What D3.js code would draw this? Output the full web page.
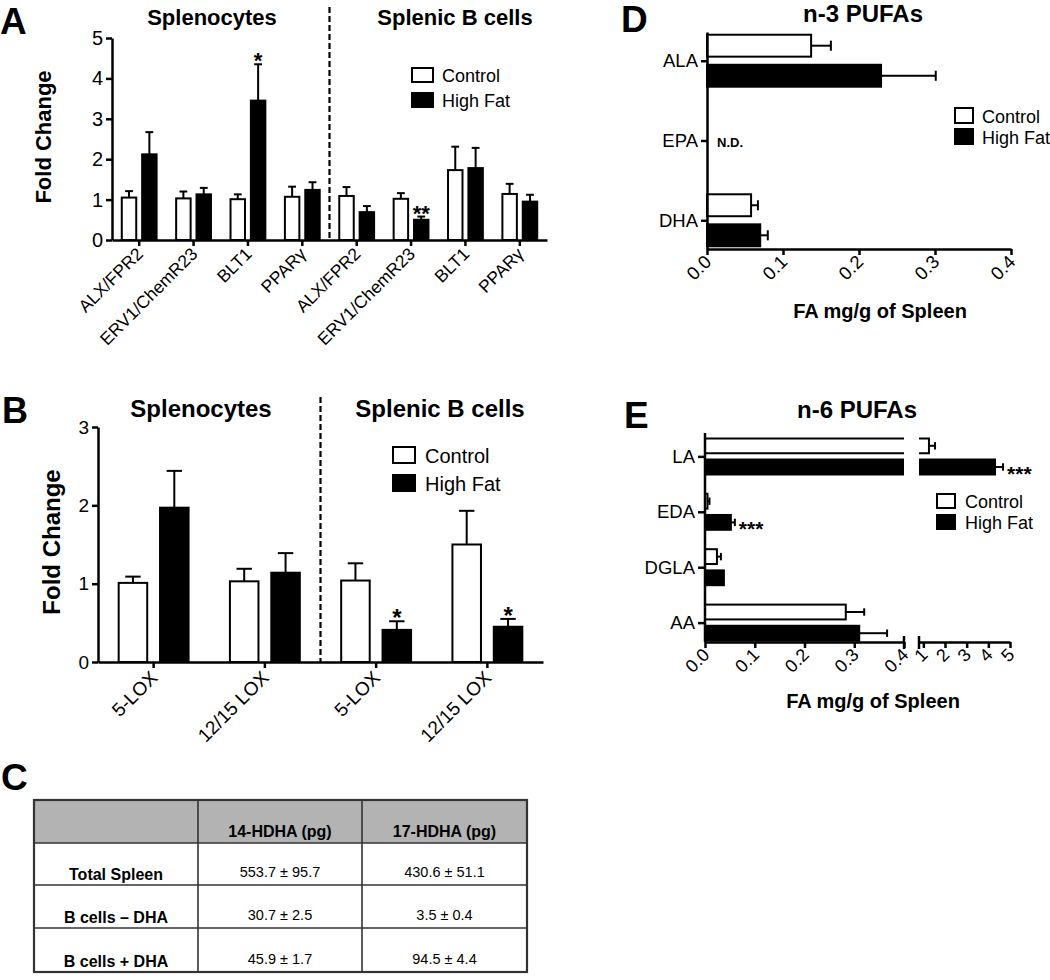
<!DOCTYPE html>
<html><head><meta charset="utf-8">
<script src="https://cdn.jsdelivr.net/npm/d3@7"></script>
<style>body{margin:0;background:#fff} svg, svg text{font-family:"Liberation Sans",Arial,Helvetica,sans-serif}</style>
</head><body>
<svg id="fig" width="1050" height="980"></svg>
<script>
// ---------- DATA ----------
const seriesNames = ["Control", "High Fat"];
const seriesFill = ["#ffffff", "#000000"];

// Panel A
const catsA = ["ALX/FPR2", "ERV1/ChemR23", "BLT1", "PPARγ", "ALX/FPR2", "ERV1/ChemR23", "BLT1", "PPARγ"];
const groupTitlesA = ["Splenocytes", "Splenic B cells"];
const ctrlA = [1.05, 1.03, 1.01, 1.07, 1.09, 1.02, 1.73, 1.14];
const ctrlErrA = [0.16, 0.17, 0.12, 0.25, 0.22, 0.14, 0.58, 0.25];
const hfA = [2.12, 1.13, 3.45, 1.24, 0.69, 0.50, 1.78, 0.95];
const hfErrA = [0.55, 0.16, 0.90, 0.19, 0.15, 0.08, 0.50, 0.17];
const sigA = ["", "", "*", "", "", "**", "", ""];
const ticksA = [0, 1, 2, 3, 4, 5];

// Panel B
const catsB = ["5-LOX", "12/15 LOX", "5-LOX", "12/15 LOX"];
const groupTitlesB = ["Splenocytes", "Splenic B cells"];
const ctrlB = [1.01, 1.03, 1.04, 1.50];
const ctrlErrB = [0.08, 0.16, 0.22, 0.43];
const hfB = [1.97, 1.14, 0.41, 0.45];
const hfErrB = [0.47, 0.25, 0.11, 0.10];
const sigB = ["", "", "*", "*"];
const ticksB = [0, 1, 2, 3];

// Panel C (table)
const tableHeader = ["", "14-HDHA (pg)", "17-HDHA (pg)"];
const tableRows = ["Total Spleen", "B cells – DHA", "B cells + DHA"];
const mean14 = [553.7, 30.7, 45.9];
const sem14 = [95.7, 2.5, 1.7];
const mean17 = [430.6, 3.5, 94.5];
const sem17 = [51.1, 0.4, 4.4];

// Panel D
const catsD = ["ALA", "EPA", "DHA"];
const ctrlD = [0.137, null, 0.058];
const ctrlErrD = [0.026, null, 0.009];
const hfD = [0.229, null, 0.070];
const hfErrD = [0.072, null, 0.010];
const ndD = ["", "N.D.", ""];
const ticksD = [0, 0.1, 0.2, 0.3, 0.4];

// Panel E
const catsE = ["LA", "EDA", "DGLA", "AA"];
const ctrlE = [1.26, 0.005, 0.024, 0.283];
const ctrlErrE = [0.28, 0.004, 0.008, 0.037];
const hfE = [4.31, 0.052, 0.038, 0.310];
const hfErrE = [0.37, 0.008, 0, 0.056];
const sigE = ["***", "***", "", ""];
const ticksE1 = [0, 0.1, 0.2, 0.3, 0.4];
const ticksE2 = [1, 2, 3, 4, 5];

// ---------- DRAWING ----------
const FONT = '"Liberation Sans", Arial, Helvetica, sans-serif';
const svg = d3.select("#fig");
const AX = 2.5, BAR = 2;

function styleAxis(g, fs) {
  g.attr("font-family", FONT);
  g.select(".domain").attr("stroke-width", AX).attr("stroke", "#000");
  g.selectAll(".tick line").attr("stroke-width", AX).attr("stroke", "#000");
  g.selectAll(".tick text").attr("font-size", fs).attr("fill", "#000");
}

function legend(x, y, bw, bh, step, fs, tx) {
  const g = svg.append("g");
  seriesNames.forEach((n, i) => {
    g.append("rect").attr("x", x).attr("y", y + i * step).attr("width", bw).attr("height", bh)
      .attr("fill", seriesFill[i]).attr("stroke", "#000").attr("stroke-width", BAR);
    g.append("text").attr("x", x + tx).attr("y", y + i * step + bh).attr("font-size", fs).text(n);
  });
}

function label(x, y, t, fs, opts = {}) {
  const el = svg.append("text").attr("x", x).attr("y", y).attr("font-size", fs)
    .attr("font-weight", opts.weight || "bold").attr("text-anchor", opts.anchor || "start").text(t);
  if (opts.rotate) el.attr("transform", `rotate(${opts.rotate},${x},${y})`);
  return el;
}

function vPanel(c) {
  const g = svg.append("g");
  const x = d3.scaleBand().domain(d3.range(c.cats.length)).range([c.left, c.right]);
  const sub = d3.scaleBand().domain([0, 1]).range([0, x.bandwidth()]).paddingInner(c.pIn).paddingOuter(c.pOut);
  const y = d3.scaleLinear().domain([0, c.ymax]).range([c.bottom, c.top]);
  const bw = sub.bandwidth();
  const data = c.cats.flatMap((k, i) => [
    { i, s: 0, v: c.ctrl[i], e: c.ctrlErr[i], sig: "" },
    { i, s: 1, v: c.hf[i], e: c.hfErr[i], sig: c.sig[i] }]);
  data.forEach(d => {
    const cx = x(d.i) + sub(d.s) + bw / 2;
    g.append("line").attr("x1", cx).attr("x2", cx).attr("y1", y(d.v)).attr("y2", y(d.v + d.e))
      .attr("stroke", "#000").attr("stroke-width", BAR);
    g.append("line").attr("x1", cx - bw * 0.27).attr("x2", cx + bw * 0.27)
      .attr("y1", y(d.v + d.e)).attr("y2", y(d.v + d.e)).attr("stroke", "#000").attr("stroke-width", BAR);
  });
  g.selectAll("rect.bar").data(data).join("rect").attr("class", "bar")
    .attr("x", d => x(d.i) + sub(d.s)).attr("y", d => y(d.v)).attr("width", bw)
    .attr("height", d => y(0) - y(d.v)).attr("fill", d => seriesFill[d.s])
    .attr("stroke", "#000").attr("stroke-width", BAR);
  g.selectAll("text.sig").data(data.filter(d => d.sig)).join("text").attr("class", "sig")
    .attr("x", d => x(d.i) + sub(d.s) + bw / 2).attr("y", d => y(d.v + d.e) + c.sigDy)
    .attr("text-anchor", "middle").attr("font-size", c.sigFs).attr("font-weight", "bold").text(d => d.sig);
  // axes
  const ya = g.append("g").attr("transform", `translate(${c.left},0)`)
    .call(d3.axisLeft(y).tickValues(c.ticks).tickFormat(d3.format("d")).tickSize(6).tickSizeOuter(0).tickPadding(3));
  styleAxis(ya, c.tickFs);
  const xa = g.append("g").attr("transform", `translate(0,${c.bottom})`)
    .call(d3.axisBottom(x).tickFormat(i => c.cats[i]).tickSize(6).tickSizeOuter(0));
  styleAxis(xa, c.xFs);
  xa.selectAll(".tick text").attr("y", 0).attr("dy", 0).attr("text-anchor", "end")
    .attr("transform", `translate(${c.xlx},${c.xly}) rotate(-45)`);
  // dashed separator between groups
  const sx = x(c.cats.length / 2);
  g.append("line").attr("x1", sx).attr("x2", sx).attr("y1", c.dashTop).attr("y2", c.bottom)
    .attr("stroke", "#000").attr("stroke-width", 2.2).attr("stroke-dasharray", "6,3");
  // group titles
  c.titles.forEach((t, i) => label(c.titleX[i], c.titleY, t, c.titleFs, { anchor: "middle" }));
  label(c.ylabX, c.ylabY, "Fold Change", c.ylabFs, { anchor: "middle", rotate: -90 });
}

// Panel A
label(0, 34, "A", 37);
vPanel({
  cats: catsA, ctrl: ctrlA, ctrlErr: ctrlErrA, hf: hfA, hfErr: hfErrA, sig: sigA, ticks: ticksA,
  left: 112, right: 547, top: 38, bottom: 240, ymax: 5, pIn: 0.29, pOut: 0.48,
  tickFs: 20, xFs: 17.5, xlx: 5, xly: 15, sigFs: 22, sigDy: 4, dashTop: 7,
  titles: groupTitlesA, titleX: [212, 455], titleY: 25, titleFs: 22,
  ylabX: 51, ylabY: 137, ylabFs: 22
});
legend(412, 68, 21, 14, 25, 18, 30);

// Panel B
label(2, 423, "B", 36);
vPanel({
  cats: catsB, ctrl: ctrlB, ctrlErr: ctrlErrB, hf: hfB, hfErr: hfErrB, sig: sigB, ticks: ticksB,
  left: 98, right: 543, top: 427, bottom: 662, ymax: 3, pIn: 0.31, pOut: 0.5,
  tickFs: 19, xFs: 19, xlx: 5, xly: 17, sigFs: 24, sigDy: 5, dashTop: 397,
  titles: groupTitlesB, titleX: [201, 440], titleY: 417, titleFs: 24,
  ylabX: 60, ylabY: 542, ylabFs: 24
});
legend(393, 447, 22, 16, 28, 20, 32);

// Panel C
label(1, 790, "C", 37);
(function () {
  const g = svg.append("g");
  const colX = [34, 198, 362, 527];
  const rowY = [800, 843, 885, 928, 972];
  g.append("rect").attr("x", colX[0]).attr("y", rowY[0]).attr("width", colX[3] - colX[0])
    .attr("height", rowY[1] - rowY[0]).attr("fill", "#b3b3b3");
  rowY.slice(1, 4).forEach(yv => g.append("line").attr("x1", colX[0]).attr("x2", colX[3])
    .attr("y1", yv).attr("y2", yv).attr("stroke", "#333").attr("stroke-width", 1.6));
  colX.slice(1, 3).forEach(xv => g.append("line").attr("x1", xv).attr("x2", xv)
    .attr("y1", rowY[0]).attr("y2", rowY[4]).attr("stroke", "#333").attr("stroke-width", 1.6));
  g.append("rect").attr("x", colX[0]).attr("y", rowY[0]).attr("width", colX[3] - colX[0])
    .attr("height", rowY[4] - rowY[0]).attr("fill", "none").attr("stroke", "#333").attr("stroke-width", 2.2);
  const cx = i => (colX[i] + colX[i + 1]) / 2;
  tableHeader.forEach((h, i) => { if (h) g.append("text").attr("x", cx(i)).attr("y", rowY[1] - 6)
    .attr("text-anchor", "middle").attr("font-size", 16).attr("font-weight", "bold").text(h); });
  tableRows.forEach((r, j) => {
    const yb = rowY[j + 2];
    g.append("text").attr("x", cx(0)).attr("y", yb - 5).attr("text-anchor", "middle")
      .attr("font-size", 16).attr("font-weight", "bold").text(r);
    g.append("text").attr("x", cx(1)).attr("y", yb - 8).attr("text-anchor", "middle")
      .attr("font-size", 14.5).text(`${mean14[j].toFixed(1)} ± ${sem14[j].toFixed(1)}`);
    g.append("text").attr("x", cx(2)).attr("y", yb - 8).attr("text-anchor", "middle")
      .attr("font-size", 14.5).text(`${mean17[j].toFixed(1)} ± ${sem17[j].toFixed(1)}`);
  });
})();

// Panel D
label(621, 32, "D", 37);
(function () {
  const g = svg.append("g");
  const x = d3.scaleLinear().domain([0, 0.4]).range([707, 1011]);
  const y = d3.scalePoint().domain(catsD).range([32, 249]).padding(0.36);
  const sub = d3.scaleBand().domain([0, 1]).range([-26, 26]).paddingInner(0.27);
  const bh = sub.bandwidth();
  const data = catsD.flatMap((k, i) => [
    { k, s: 0, v: ctrlD[i], e: ctrlErrD[i] }, { k, s: 1, v: hfD[i], e: hfErrD[i] }]).filter(d => d.v != null);
  data.forEach(d => {
    const cy = y(d.k) + sub(d.s) + bh / 2;
    g.append("line").attr("x1", x(d.v)).attr("x2", x(d.v + d.e)).attr("y1", cy).attr("y2", cy)
      .attr("stroke", "#000").attr("stroke-width", BAR);
    g.append("line").attr("x1", x(d.v + d.e)).attr("x2", x(d.v + d.e)).attr("y1", cy - bh * 0.23).attr("y2", cy + bh * 0.23)
      .attr("stroke", "#000").attr("stroke-width", BAR);
  });
  g.selectAll("rect").data(data).join("rect").attr("x", x(0)).attr("y", d => y(d.k) + sub(d.s))
    .attr("width", d => x(d.v) - x(0)).attr("height", bh).attr("fill", d => seriesFill[d.s])
    .attr("stroke", "#000").attr("stroke-width", BAR);
  catsD.forEach((k, i) => { if (ndD[i]) g.append("text").attr("x", x(0) + 10).attr("y", y(k) + 6)
    .attr("font-size", 13).attr("font-weight", "bold").text(ndD[i]); });
  const ya = g.append("g").attr("transform", `translate(${x(0)},0)`)
    .call(d3.axisLeft(y).tickSize(6).tickSizeOuter(0).tickPadding(3));
  styleAxis(ya, 18.5);
  const xa = g.append("g").attr("transform", `translate(0,249)`)
    .call(d3.axisBottom(x).tickValues(ticksD).tickFormat(d3.format(".1f")).tickSize(6).tickSizeOuter(0));
  styleAxis(xa, 18.5);
  xa.selectAll(".tick text").attr("y", 0).attr("dy", 0).attr("text-anchor", "end")
    .attr("transform", "translate(5,14) rotate(-45)");
  label(863, 22, "n-3 PUFAs", 24, { anchor: "middle" });
  label(880, 318, "FA mg/g of Spleen", 20, { anchor: "middle" });
})();
legend(955, 108, 18, 15, 21, 18, 27);

// Panel E
label(624, 428, "E", 37);
(function () {
  const g = svg.append("g");
  const xAxisY = 642;
  const x1 = d3.scaleLinear().domain([0, 0.4]).range([705, 904]);
  const x2 = d3.scaleLinear().domain([0.8, 5]).range([919, 1010]);
  const brk = x1.domain()[1];
  const y = d3.scalePoint().domain(catsE).range([437, xAxisY]).padding(0.35);
  const sub = d3.scaleBand().domain([0, 1]).range([-18, 18]).paddingInner(0.3);
  const bh = sub.bandwidth();
  const xv = v => v <= brk ? x1(v) : x2(v);
  const data = catsE.flatMap((k, i) => [
    { k, s: 0, v: ctrlE[i], e: ctrlErrE[i], sig: "" }, { k, s: 1, v: hfE[i], e: hfErrE[i], sig: sigE[i] }]);
  data.forEach(d => {
    const cy = y(d.k) + sub(d.s) + bh / 2;
    if (d.e > 0) {
      g.append("line").attr("x1", xv(d.v)).attr("x2", xv(d.v + d.e)).attr("y1", cy).attr("y2", cy)
        .attr("stroke", "#000").attr("stroke-width", BAR);
      g.append("line").attr("x1", xv(d.v + d.e)).attr("x2", xv(d.v + d.e)).attr("y1", cy - bh * 0.25).attr("y2", cy + bh * 0.25)
        .attr("stroke", "#000").attr("stroke-width", BAR);
    }
    const yt = y(d.k) + sub(d.s);
    if (d.v <= brk) {
      g.append("rect").attr("x", x1(0)).attr("y", yt).attr("width", x1(d.v) - x1(0)).attr("height", bh)
        .attr("fill", seriesFill[d.s]).attr("stroke", "#000").attr("stroke-width", BAR);
    } else {
      g.append("path").attr("d", `M${x1(brk)},${yt}H${x1(0)}V${yt + bh}H${x1(brk)}`)
        .attr("fill", seriesFill[d.s]).attr("stroke", "#000").attr("stroke-width", BAR);
      g.append("path").attr("d", `M${x2.range()[0]},${yt}H${x2(d.v)}V${yt + bh}H${x2.range()[0]}`)
        .attr("fill", seriesFill[d.s]).attr("stroke", "#000").attr("stroke-width", BAR);
    }
    if (d.sig) g.append("text").attr("x", xv(d.v + d.e) + 4).attr("y", cy + 14)
      .attr("font-size", 21).attr("font-weight", "bold").text(d.sig);
  });
  const ya = g.append("g").attr("transform", `translate(${x1(0)},0)`)
    .call(d3.axisLeft(y).tickSize(7).tickSizeOuter(0).tickPadding(3));
  styleAxis(ya, 18.5);
  ya.select(".domain").remove();
  g.append("line").attr("x1", x1(0)).attr("x2", x1(0)).attr("y1", 433).attr("y2", xAxisY)
    .attr("stroke", "#000").attr("stroke-width", AX);
  const xa1 = g.append("g").attr("transform", `translate(0,${xAxisY})`)
    .call(d3.axisBottom(x1).tickValues(ticksE1).tickFormat(d3.format(".1f")).tickSize(6).tickSizeOuter(0));
  const xa2 = g.append("g").attr("transform", `translate(0,${xAxisY})`)
    .call(d3.axisBottom(x2).tickValues(ticksE2).tickFormat(d3.format("d")).tickSize(6).tickSizeOuter(0));
  [xa1, xa2].forEach(a => {
    styleAxis(a, 18);
    a.selectAll(".tick text").attr("y", 0).attr("dy", 0).attr("text-anchor", "end")
      .attr("transform", "translate(5,14) rotate(-45)");
  });
  [x1(brk), x2.range()[0]].forEach(bx => g.append("line").attr("x1", bx).attr("x2", bx)
    .attr("y1", xAxisY - 6).attr("y2", xAxisY + 7).attr("stroke", "#000").attr("stroke-width", AX));
  label(857, 418, "n-6 PUFAs", 24, { anchor: "middle" });
  label(873, 708, "FA mg/g of Spleen", 20, { anchor: "middle" });
})();
legend(937, 494, 18, 14, 21, 18, 28);
</script>
</body></html>
